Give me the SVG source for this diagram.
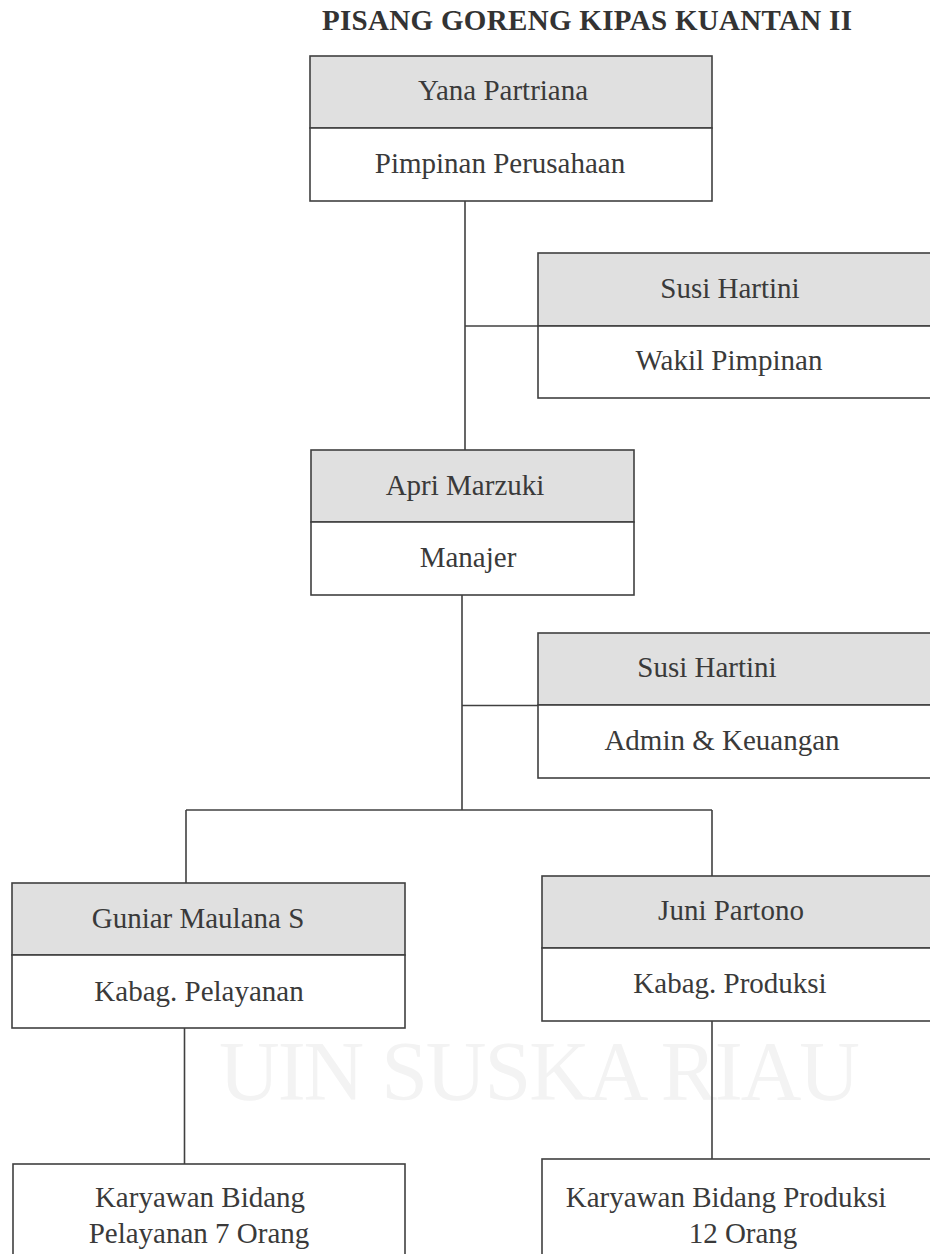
<svg xmlns="http://www.w3.org/2000/svg" width="930" height="1254" viewBox="0 0 930 1254">
<style>
.box{fill:#ffffff;stroke:#404040;stroke-width:1.6}
.hd{fill:#e0e0e0;stroke:#404040;stroke-width:1.6}
.t{font-family:"Liberation Serif","Times New Roman",serif;font-size:29px;fill:#3a3a3a;text-anchor:middle}
.title{font-family:"Liberation Serif","Times New Roman",serif;font-size:29px;font-weight:bold;fill:#333333}
.wm{font-family:"Liberation Serif","Times New Roman",serif;font-size:84px;fill:#f3f3f3}
.c{stroke:#404040;stroke-width:1.6;fill:none}
</style>
<rect width="930" height="1254" fill="#ffffff"/>
<g id="watermark">
<text class="wm" x="219" y="1100" textLength="641">UIN SUSKA RIAU</text>
</g>
<text class="title" x="322" y="30" textLength="530">PISANG GORENG KIPAS KUANTAN II</text>
<g id="connectors">
<path class="c" d="M465,201 V450"/>
<path class="c" d="M465,326 H538"/>
<path class="c" d="M462,595 V810"/>
<path class="c" d="M462,705.5 H538"/>
<path class="c" d="M186,810 H712"/>
<path class="c" d="M186,810 V883"/>
<path class="c" d="M712,810 V876"/>
<path class="c" d="M184.5,1028 V1164"/>
<path class="c" d="M712,1021 V1164"/>
</g>
<g id="yana">
<rect class="hd" x="310" y="56" width="402" height="72"/>
<rect class="box" x="310" y="128" width="402" height="73"/>
<text class="t" x="503" y="100">Yana Partriana</text>
<text class="t" x="500" y="173">Pimpinan Perusahaan</text>
</g>
<g id="susi-wakil">
<rect class="hd" x="538" y="253" width="402" height="73"/>
<rect class="box" x="538" y="326" width="402" height="72"/>
<text class="t" x="730" y="298">Susi Hartini</text>
<text class="t" x="729" y="370">Wakil Pimpinan</text>
</g>
<g id="apri">
<rect class="hd" x="311" y="450" width="323" height="72"/>
<rect class="box" x="311" y="522" width="323" height="73"/>
<text class="t" x="465" y="495">Apri Marzuki</text>
<text class="t" x="468" y="567">Manajer</text>
</g>
<g id="susi-admin">
<rect class="hd" x="538" y="633" width="402" height="72"/>
<rect class="box" x="538" y="705" width="402" height="73"/>
<text class="t" x="707" y="677">Susi Hartini</text>
<text class="t" x="722" y="750">Admin &amp; Keuangan</text>
</g>
<g id="guniar">
<rect class="hd" x="12" y="883" width="393" height="72"/>
<rect class="box" x="12" y="955" width="393" height="73"/>
<text class="t" x="198" y="928">Guniar Maulana S</text>
<text class="t" x="199" y="1001">Kabag. Pelayanan</text>
</g>
<g id="juni">
<rect class="hd" x="542" y="876" width="398" height="72"/>
<rect class="box" x="542" y="948" width="398" height="73"/>
<text class="t" x="731" y="920">Juni Partono</text>
<text class="t" x="730" y="993">Kabag. Produksi</text>
</g>
<g id="karyawan-pelayanan">
<rect class="box" x="13" y="1164" width="392" height="110"/>
<text class="t" x="200" y="1207">Karyawan Bidang</text>
<text class="t" x="199" y="1243">Pelayanan 7 Orang</text>
</g>
<g id="karyawan-produksi">
<rect class="box" x="542" y="1159" width="398" height="110"/>
<text class="t" x="726" y="1207">Karyawan Bidang Produksi</text>
<text class="t" x="743" y="1243">12 Orang</text>
</g>
</svg>
